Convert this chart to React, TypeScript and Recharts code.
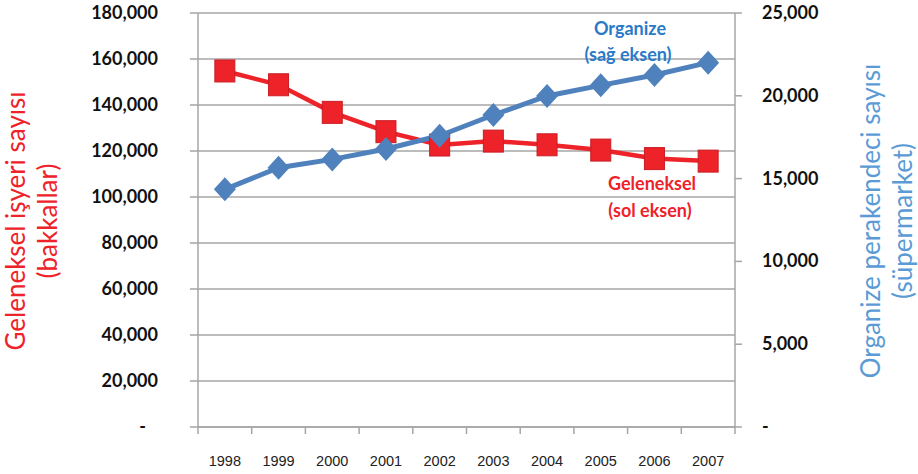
import { LineChart, Line, XAxis, YAxis, CartesianGrid, Label } from "recharts"

const years = [1998, 1999, 2000, 2001, 2002, 2003, 2004, 2005, 2006, 2007]
const geleneksel = [154800, 148800, 136800, 128400, 122600, 124300, 122700, 120400, 116700, 115600]
const organize = [14350, 15660, 16160, 16790, 17590, 18840, 19990, 20630, 21260, 22000]
const leftTicks = [0, 20000, 40000, 60000, 80000, 100000, 120000, 140000, 160000, 180000]
const rightTicks = [0, 5000, 10000, 15000, 20000, 25000]
const yearBounds = [1997.5, 1998.5, 1999.5, 2000.5, 2001.5, 2002.5, 2003.5, 2004.5, 2005.5, 2006.5, 2007.5]

const RED = "#ee2229"
const BLUE = "#4f81bd"
const TITLE_BLUE = "#5b9bd5"
const ANNOT_BLUE = "#2a7ac8"
const GRID = "#a6a6a6"
const FONT = "Lato, 'Open Sans', sans-serif"

const data = years.map((y, i) => ({ year: y, geleneksel: geleneksel[i], organize: organize[i] }))
const xTicks = [...yearBounds, ...years].sort((a, b) => a - b)

const fmt = (v: number) => (v === 0 ? "-" : v.toLocaleString("en-US"))

function LeftTick(props: any) {
  const { x, y, payload } = props
  const shift = payload.value === 0 ? -42 : -30
  return (
    <text x={x + shift} y={y} dy={6} textAnchor="end" fontFamily={FONT} fontWeight="bold" fontSize={18} fill="#111">
      {fmt(payload.value)}
    </text>
  )
}

function RightTick(props: any) {
  const { x, y, payload } = props
  return (
    <text x={x + 18} y={y} dy={6} textAnchor="start" fontFamily={FONT} fontWeight="bold" fontSize={18} fill="#111">
      {fmt(payload.value)}
    </text>
  )
}

function YearTick(props: any) {
  const { x, y, payload } = props
  if (!Number.isInteger(payload.value)) {
    return <line x1={x} x2={x} y1={y} y2={y + 7} stroke={GRID} strokeWidth={1.5} />
  }
  return (
    <text x={x} y={y + 39} textAnchor="middle" fontFamily="Arial, 'Liberation Sans', sans-serif" fontSize={14.5} fill="#222">
      {payload.value}
    </text>
  )
}

function Square(props: any) {
  const { cx, cy } = props
  if (cx == null || cy == null) return null
  return <rect x={cx - 10} y={cy - 11} width={20} height={22} fill={RED} stroke="#c81e24" strokeWidth={1} />
}

function Diamond(props: any) {
  const { cx, cy } = props
  if (cx == null || cy == null) return null
  return <polygon points={`${cx},${cy - 12} ${cx + 11},${cy} ${cx},${cy + 12} ${cx - 11},${cy}`} fill={BLUE} />
}

function AxisTitle(lines: string[], cx: number, color: string) {
  const cy = 221
  return (
    <text
      transform={`translate(${cx},${cy}) rotate(-90)`}
      textAnchor="middle"
      fontFamily={FONT}
      fontSize={26}
      fill={color}
    >
      <tspan x={0} y={0}>{lines[0]}</tspan>
      <tspan x={0} y={32}>{lines[1]}</tspan>
    </text>
  )
}

const annot = (color: string) => ({
  position: "absolute" as const,
  fontFamily: FONT,
  fontWeight: "bold" as const,
  fontSize: 18,
  color,
  transform: "translate(-50%, -50%)",
  whiteSpace: "nowrap" as const,
  lineHeight: 1,
})

export default function App() {
  return (
    <div style={{ position: "absolute", left: 0, top: 0, width: 918, height: 474, background: "#fff" }}>
      <LineChart width={918} height={474} data={data} margin={{ top: 13, right: 0, left: 0, bottom: 0 }}>
        <CartesianGrid vertical={false} stroke={GRID} strokeWidth={1.5} yAxisId="left" />
        <XAxis
          dataKey="year"
          type="number"
          domain={[1997.5, 2007.5]}
          ticks={xTicks}
          height={47}
          interval={0}
          stroke={GRID}
          strokeWidth={1.5}
          tickLine={false}
          tickSize={0}
          tickMargin={0}
          tick={<YearTick />}
        />
        <YAxis
          yAxisId="left"
          domain={[0, 180000]}
          ticks={leftTicks}
          width={198}
          stroke={GRID}
          strokeWidth={1.5}
          tickSize={8}
          tick={<LeftTick />}
          interval={0}
        >
          <Label content={() => AxisTitle(["Geleneksel işyeri sayısı", "(bakkallar)"], 25, RED)} />
        </YAxis>
        <YAxis
          yAxisId="right"
          orientation="right"
          domain={[0, 25000]}
          ticks={rightTicks}
          width={183}
          stroke={GRID}
          strokeWidth={1.5}
          tickSize={7}
          tick={<RightTick />}
          interval={0}
        >
          <Label content={() => AxisTitle(["Organize perakendeci sayısı", "(süpermarket)"], 880, TITLE_BLUE)} />
        </YAxis>
        <Line
          yAxisId="left"
          dataKey="geleneksel"
          stroke={RED}
          strokeWidth={4.5}
          dot={<Square />}
          isAnimationActive={false}
        />
        <Line
          yAxisId="right"
          dataKey="organize"
          stroke={BLUE}
          strokeWidth={5}
          dot={<Diamond />}
          isAnimationActive={false}
        />
      </LineChart>
      <div style={{ ...annot(ANNOT_BLUE), left: 630, top: 28 }}>Organize</div>
      <div style={{ ...annot(ANNOT_BLUE), left: 628, top: 54 }}>(sağ eksen)</div>
      <div style={{ ...annot(RED), left: 652, top: 183 }}>Geleneksel</div>
      <div style={{ ...annot(RED), left: 650, top: 210 }}>(sol eksen)</div>
    </div>
  )
}
